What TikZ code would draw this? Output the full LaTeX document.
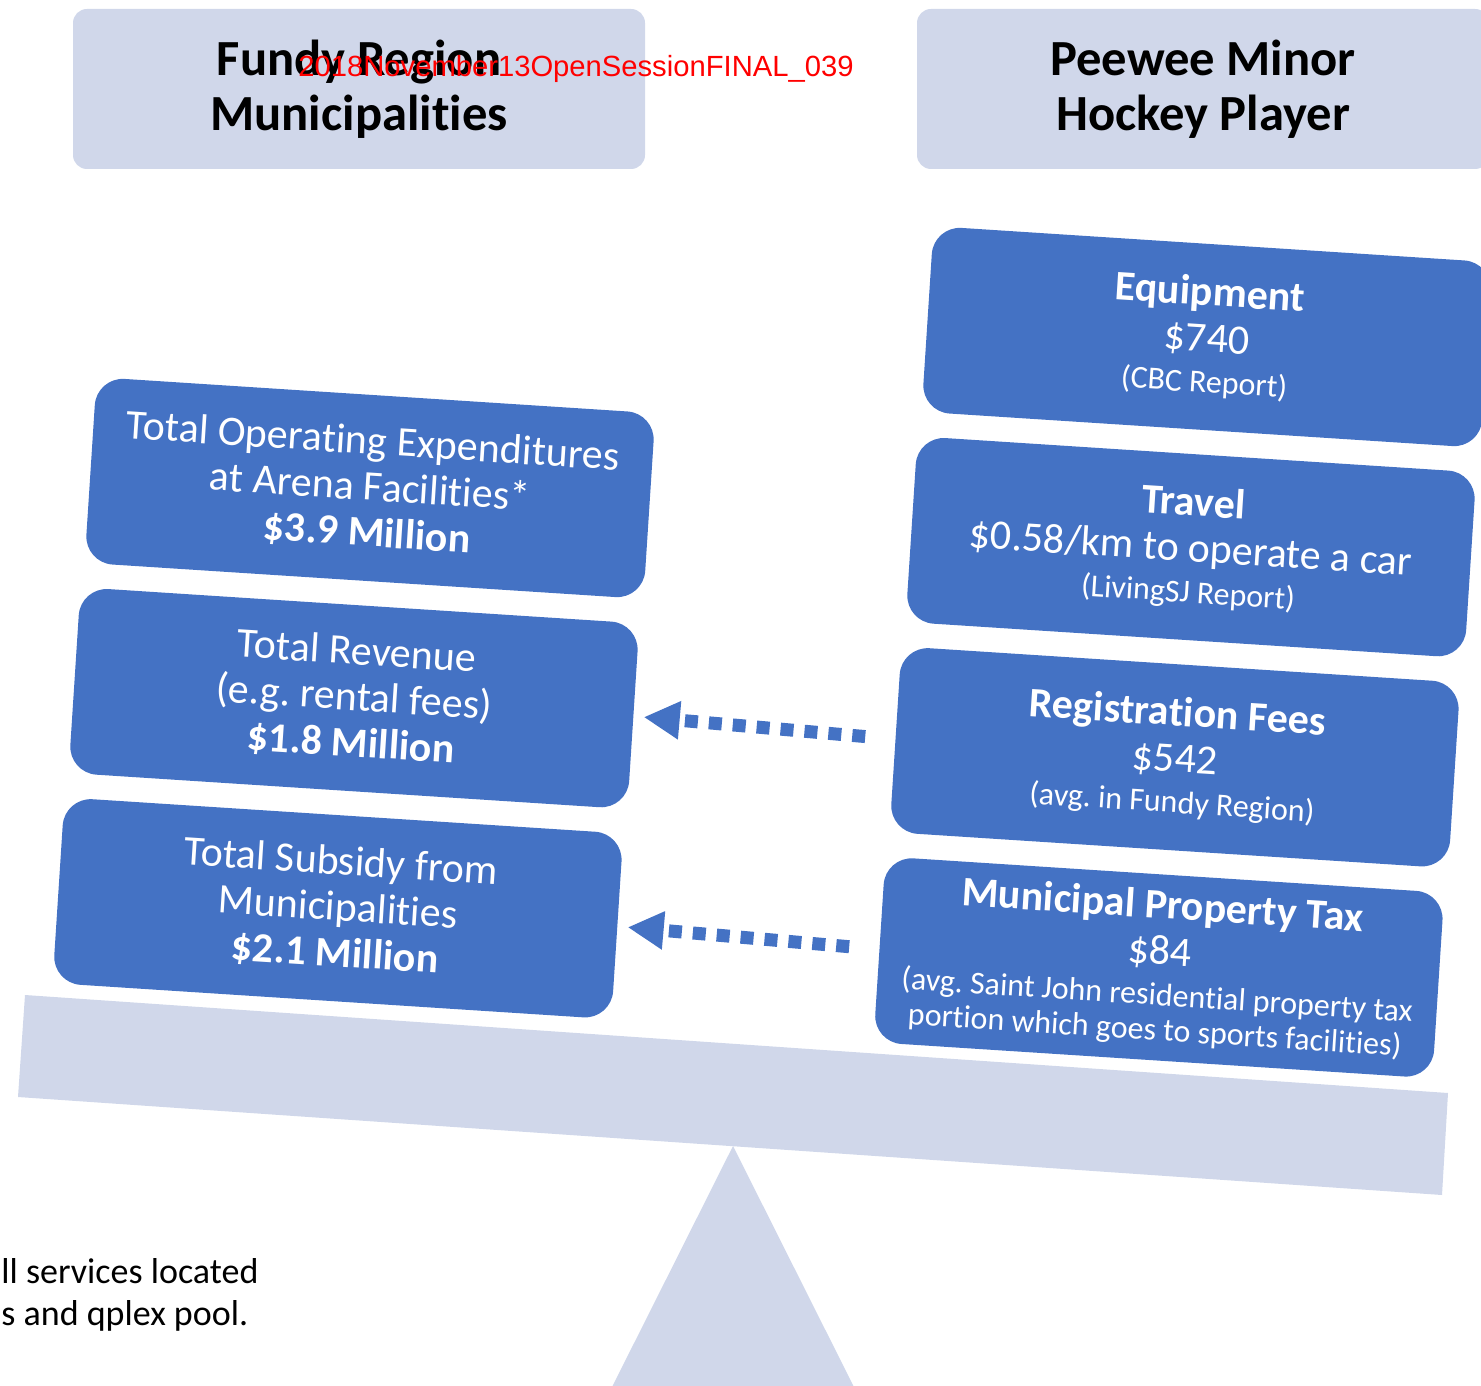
\documentclass[tikz,border=0pt]{standalone}
\usepackage{fontspec}
\setmainfont{Carlito}[Ligatures=NoCommon]
\newfontfamily\markfont{Liberation Sans}
\usetikzlibrary{positioning, arrows.meta}

\definecolor{slideblue}{RGB}{68,114,196}
\definecolor{scalegray}{RGB}{208,215,234}
\newcommand\smallnote{\fontsize{16}{19}\selectfont}
\frenchspacing

\begin{document}
\begin{tikzpicture}[x=0.5pt,y=-0.5pt]
\tikzstyle{every node}=[inner sep=0pt]
\tikzstyle{headbox}=[fill=scalegray, rounded corners=7pt, minimum width=286pt, minimum height=80pt, align=center, font=\fontsize{25.3}{27.5}\selectfont\bfseries]
\tikzstyle{costbox}=[fill=slideblue, text=white, rounded corners=14pt, minimum width=280pt, minimum height=93pt, rotate=-3.7, align=center, font=\fontsize{21}{23}\selectfont]
\tikzstyle{flow}=[draw=slideblue, line width=6.5pt, dash pattern=on 6.5pt off 5.5pt, -{Triangle[length=18pt,width=18pt]}, shorten <=15pt, shorten >=5pt]

\useasboundingbox (0,0) rectangle (1481,1385);
\clip (0,0) rectangle (1481,1385);

% beam and fulcrum
\fill[scalegray] (25,995) -- (1448,1093) -- (1442,1195) -- (18,1097) -- cycle;
\fill[scalegray] (733,1146) -- (858,1395) -- (608,1395) -- cycle;

% the two sides
\node[headbox] (fundy) at (359,89) {Fundy Region\\Municipalities};
\node[headbox] (player) at (1203,89) {Peewee Minor\\Hockey Player};
\node[font=\markfont\fontsize{14.6}{16}\selectfont, text=red, anchor=base] (stamp) at (576,77) {2018November13OpenSessionFINAL\_039};

% municipal side
\node[costbox] (opex) at (370,488) {Total Operating Expenditures\\at Arena Facilities*\\\textbf{\$3.9 Million}};
\node[costbox, below=12pt of opex, xshift=-2pt] (revenue) {Total Revenue\\(e.g. rental fees)\\\textbf{\$1.8 Million}};
\node[costbox, below=12pt of revenue, xshift=-2pt] (subsidy) {Total Subsidy from\\Municipalities\\\textbf{\$2.1 Million}};

% player side
\node[costbox] (equip) at (1207,337) {\textbf{Equipment}\\\$740\\[-2.5pt]{\smallnote (CBC Report)}};
\node[costbox, below=12pt of equip, xshift=-2pt] (travel) {\textbf{Travel}\\\$0.58/km to operate a car\\[-2.5pt]{\smallnote (LivingSJ Report)}};
\node[costbox, below=12pt of travel, xshift=-2pt] (reg) {\textbf{Registration Fees}\\\$542\\[-2.5pt]{\smallnote (avg. in Fundy Region)}};
\node[costbox, below=12pt of reg, xshift=-2pt] (tax) {\textbf{Municipal Property Tax}\\\$84\\[-2.5pt]{\smallnote (avg. Saint John residential property tax}\\[-5.5pt]{\smallnote portion which goes to sports facilities)}};

\draw[flow] (reg.west) -- (revenue.east);
\draw[flow] (tax.west) -- (subsidy.east);

\node[anchor=west, align=left, font=\fontsize{18}{21}\selectfont] (note) at (1,1295) {ll services located\\s and qplex pool.};
\end{tikzpicture}
\end{document}
